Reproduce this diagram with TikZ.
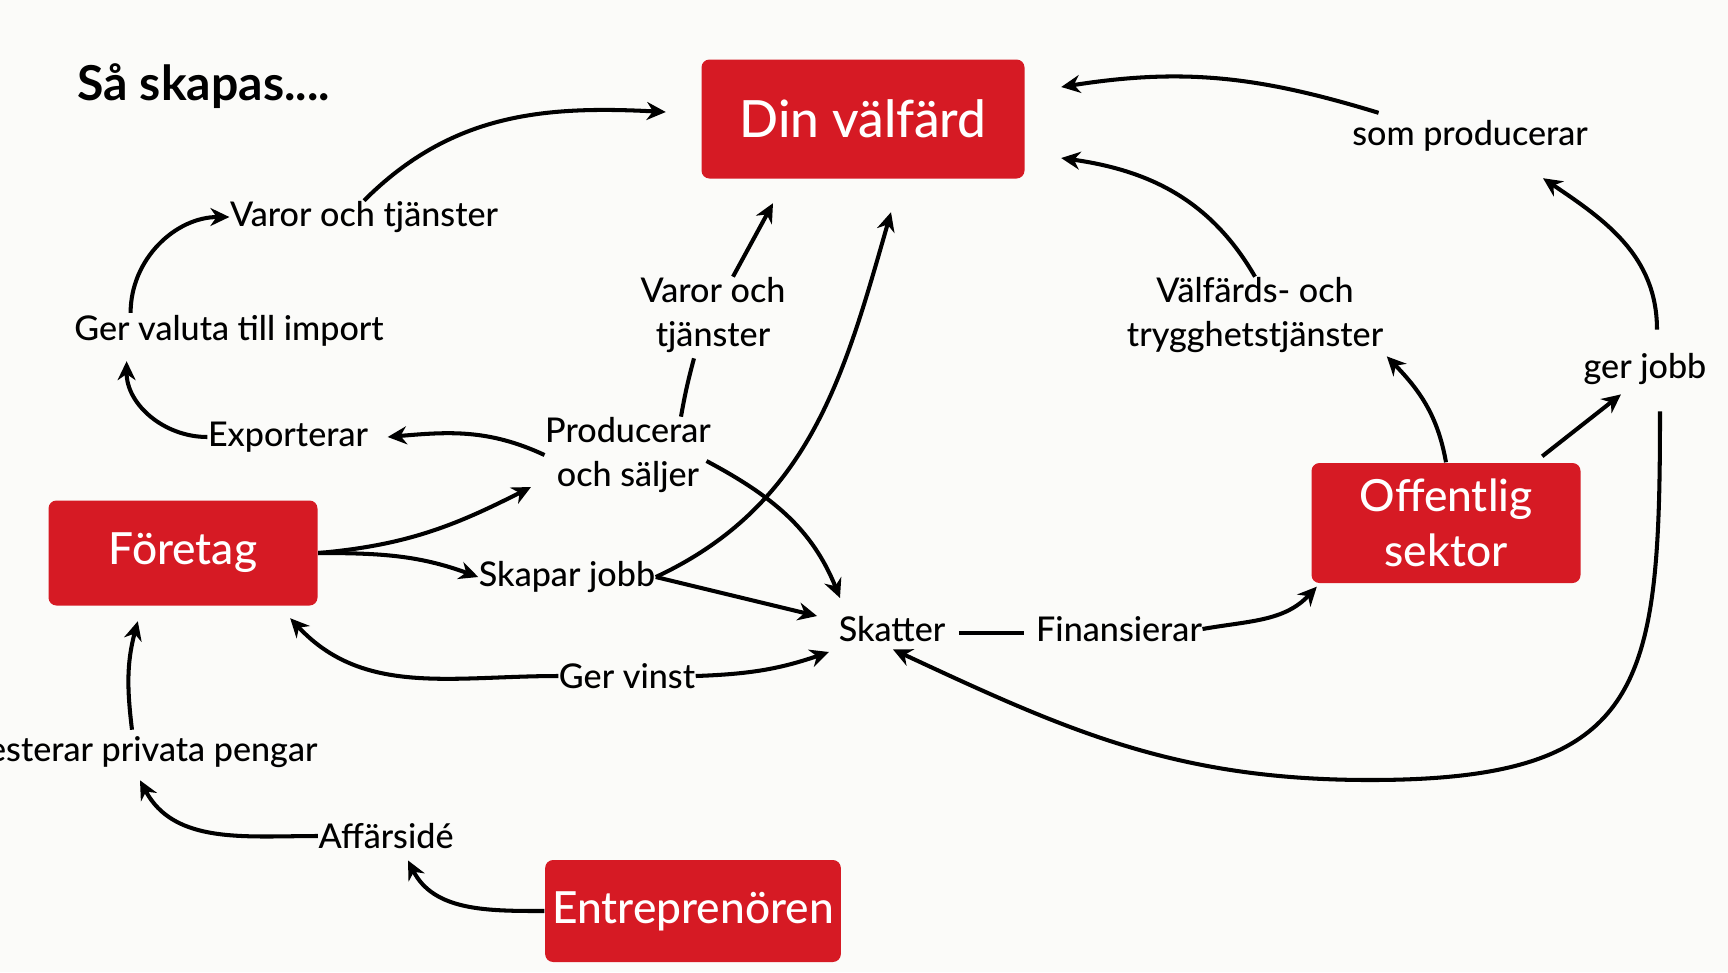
\documentclass[tikz,border=0pt]{standalone}
\usepackage{fontspec}
\setmainfont{Lato}
\newfontfamily\labelfont{Lato Medium}
\usetikzlibrary{arrows.meta, calc, positioning}
\definecolor{boxred}{RGB}{214,26,36}
\definecolor{paper}{RGB}{251,251,249}
\tikzstyle{block} = [rectangle, rounded corners=0.8mm, fill=boxred, text=white, inner xsep=2pt, font=\labelfont\fontsize{12.6}{15.6}\selectfont, align=center]
\tikzstyle{lbl} = [inner sep=0pt, align=center, font=\labelfont\fontsize{9.7}{12.5}\selectfont]
\tikzstyle{line} = [line width=1.15pt]
\tikzstyle{arrow} = [line width=1.15pt, -{Stealth[length=1.9mm, width=1.8mm]}]
\begin{document}
\begin{tikzpicture}
		\fill[paper] (0,0) rectangle (17.28,-9.72);
		\useasboundingbox (0,0) rectangle (17.28,-9.72);
		\node (Title) [anchor=west, inner sep=0pt, font=\fontsize{13.7}{16}\selectfont\bfseries] at (0.77,-0.86) {Så skapas....};
		
		\node (Valfard) [block, minimum width=3.23cm, minimum height=1.19cm, font=\labelfont\fontsize{14.6}{18}\selectfont] at (8.63,-1.19) {Din välfärd};
		\node (Foretag) [block, minimum width=2.69cm, minimum height=1.05cm] at (1.83,-5.53) {Företag};
		\node (Offentlig) [block, minimum width=2.69cm, minimum height=1.2cm] at (14.46,-5.23) {Offentlig\\sektor};
		\node (Entre) [block, minimum width=2.9cm, minimum height=1.02cm] at (6.93,-9.11) {Entreprenören};
		
		\node (VarorTop) [lbl] at (3.64,-2.17) {Varor och tjänster};
		\node (Valuta) [lbl] at (2.29,-3.31) {Ger valuta till import};
		\node (Export) [lbl] at (2.88,-4.37) {Exporterar};
		\node (Producerar) [lbl] at (6.28,-4.55) {Producerar\\och säljer};
		\node (VarorMid) [lbl] at (7.13,-3.15) {Varor och\\tjänster};
		\node (Skapar) [lbl] at (5.67,-5.77) {Skapar jobb};
		\node (Skatter) [lbl] at (8.92,-6.29) {Skatter};
		\node (Finans) [lbl] at (11.19,-6.29) {Finansierar};
		\node (Vinst) [lbl] at (6.27,-6.76) {Ger vinst};
		\node (Invest) [lbl, anchor=east] at (3.18,-7.52) {Investerar privata pengar};
		\node (Affar) [lbl] at (3.86,-8.36) {Affärsidé};
		\node (Trygg) [lbl] at (12.55,-3.15) {Välfärds- och\\trygghetstjänster};
		\node (SomProd) [lbl] at (14.70,-1.36) {som producerar};
		\node (GerJobb) [lbl] at (16.45,-3.69) {ger jobb};
		\coordinate (JobbLoop) at (13.7,-7.8);
		
		\draw [arrow] (VarorTop.north) to[out=45, in=177] ($(Valfard.west)+(-0.35,0.07)$);
		\draw [arrow] ($(Valuta.north west)+(0.57,0.02)$) to[out=90, in=180] (VarorTop.west);
		\draw [arrow] (Export.west) to[out=180, in=-90] ($(Valuta.south west)+(0.53,-0.14)$);
		\draw [arrow] (Producerar.west) to[out=155, in=5] ($(Export.east)+(0.19,0)$);
		\draw [arrow] (Foretag.east) to[out=5, in=-153] ($(Producerar.center)+(-0.97,-0.32)$);
		\draw [arrow] (Foretag.east) to[out=0, in=160] (Skapar.west);
		\draw [arrow] (Skapar.east) -- ($(Skatter.west)+(-0.21,0.13)$);
		\draw [arrow] (Skapar.east) to[out=25, in=-106] ($(Valfard.south)+(0.28,-0.33)$);
		\draw [arrow] ($(Producerar.east)+(-0.05,-0.06)$) to[out=-28, in=112] ($(Skatter.center)+(-0.52,0.31)$);
		\draw [line] ($(Producerar.north)+(0.53,0)$) to[out=80, in=-105] ($(VarorMid.south)+(-0.19,-0.05)$);
		\draw [arrow] ($(VarorMid.north)+(0.2,0)$) -- ($(Valfard.south)+(-0.90,-0.24)$);
		\draw [arrow] (Vinst.west) to[out=180, in=-47] ($(Foretag.south east)+(-0.28,-0.12)$);
		\draw [arrow] (Vinst.east) to[out=2, in=-161] ($(Skatter.center)+(-0.63,-0.23)$);
		\draw [line, shorten <=1.3mm, shorten >=1.2mm] ($(Skatter.east)+(0,-0.04)$) -- ($(Finans.west)+(0,-0.04)$);
		\draw [arrow] (Finans.east) to[out=10, in=-133] ($(Offentlig.south west)+(0.06,-0.03)$);
		\draw [arrow] (Offentlig.north) to[out=100, in=-46] ($(Trygg.south east)+(0.03,-0.03)$);
		\draw [arrow] (Trygg.north) to[out=120, in=-8] ($(Valfard.east)+(0.36,-0.39)$);
		\draw [arrow] ($(Offentlig.north east)+(-0.39,0.06)$) -- ($(GerJobb.south)+(-0.24,-0.09)$);
		\draw [arrow] ($(GerJobb.north)+(0.12,0.23)$) to[out=90, in=-34] ($(SomProd.south)+(0.73,-0.26)$);
		\draw [arrow] ($(SomProd.north west)+(0.27,0.07)$) to[out=163, in=9] ($(Valfard.east)+(0.36,0.32)$);
		\draw [arrow] ($(GerJobb.south)+(0.15,-0.26)$) to[out=-90, in=0, looseness=1.5] (JobbLoop) to[out=180, in=-25] ($(Skatter.south)+(0.01,-0.07)$);
		\draw [arrow] (Affar.west) to[out=180, in=-62] ($(Invest.south east)+(-1.78,-0.12)$);
		\draw [arrow] ($(Invest.north east)+(-1.86,0.06)$) to[out=97, in=-105] ($(Foretag.south west)+(0.9,-0.15)$);
		\draw [arrow] (Entre.west) to[out=180, in=-63] ($(Affar.south)+(0.22,-0.11)$);
\end{tikzpicture}
\end{document}
